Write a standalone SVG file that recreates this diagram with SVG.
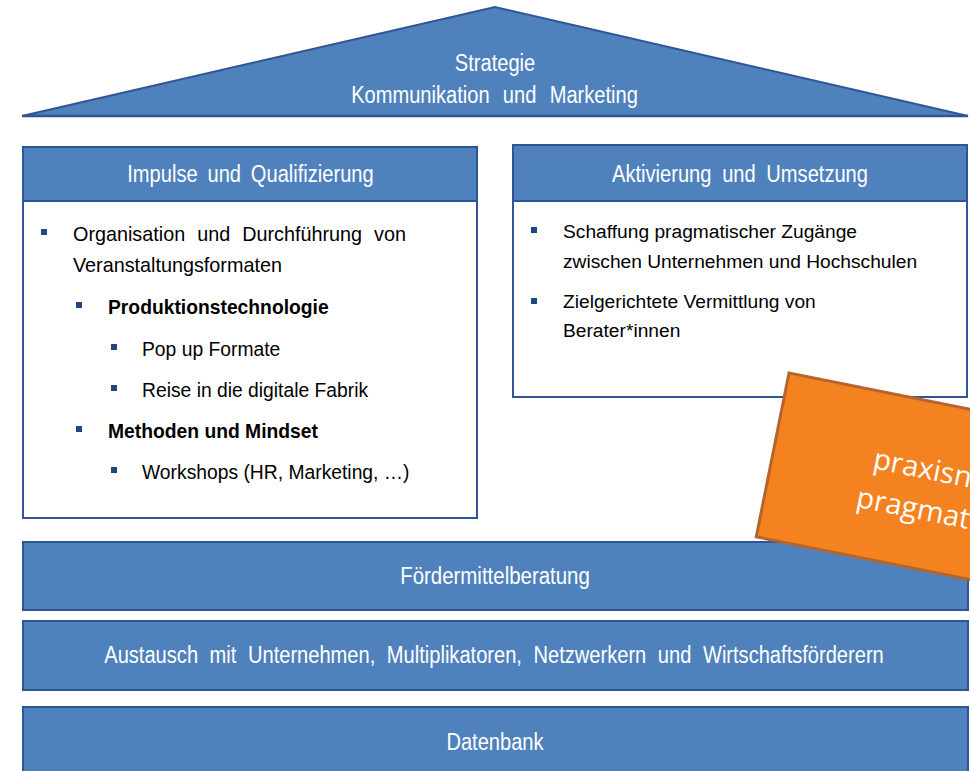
<svg xmlns="http://www.w3.org/2000/svg" width="970" height="771" viewBox="0 0 970 771">
<style>
.blue{fill:#4F81BD;stroke:#2F5597;stroke-width:2}
.box{fill:#FFFFFF;stroke:#2F5597;stroke-width:2}
.wt{font-family:"Liberation Sans",Arial,sans-serif;font-size:23.5px;fill:#FFFFFF;text-anchor:middle}
.bt{font-family:"Liberation Sans",Arial,sans-serif;fill:#000000}
.bul{fill:#1F497D}
.or{font-family:"Open Sans","Noto Sans",sans-serif;font-size:29px;fill:#FFFFFF}
</style>
<rect width="970" height="771" fill="#FFFFFF"/>
<g id="roof">
<polygon class="blue" points="22,116 495,7 968,116"/>
<line x1="22" y1="116" x2="968" y2="116" stroke="#2F5597" stroke-width="2.5"/>
<text class="wt" transform="translate(495,71) scale(0.855,1)">Strategie</text>
<text class="wt" transform="translate(494.5,103) scale(0.855,1)" word-spacing="9">Kommunikation und Marketing</text>
</g>
<g id="impulse">
<rect class="box" x="23" y="147" width="454" height="371"/>
<rect class="blue" x="23" y="147" width="454" height="54"/>
<text class="wt" transform="translate(250.5,182) scale(0.855,1)" word-spacing="5">Impulse und Qualifizierung</text>
<rect class="bul" x="41" y="229" width="6" height="6"/>
<text class="bt" x="73" y="241" font-size="19.8" word-spacing="6.5">Organisation und Durchführung von</text>
<text class="bt" x="73" y="272" font-size="19.8">Veranstaltungsformaten</text>
<rect class="bul" x="76" y="302" width="6" height="6"/>
<text class="bt" x="108" y="314" font-size="19.3" font-weight="bold">Produktionstechnologie</text>
<rect class="bul" x="111" y="344" width="6" height="6"/>
<text class="bt" x="142" y="356" font-size="19.3">Pop up Formate</text>
<rect class="bul" x="111" y="385" width="6" height="6"/>
<text class="bt" x="142" y="397" font-size="19.3">Reise in die digitale Fabrik</text>
<rect class="bul" x="76" y="426" width="6" height="6"/>
<text class="bt" x="108" y="438" font-size="19.3" font-weight="bold">Methoden und Mindset</text>
<rect class="bul" x="111" y="467" width="6" height="6"/>
<text class="bt" x="142" y="479" font-size="19.3">Workshops (HR, Marketing, …)</text>
</g>
<g id="aktivierung">
<rect class="box" x="513" y="145" width="454" height="252"/>
<rect class="blue" x="513" y="145" width="454" height="56"/>
<text class="wt" transform="translate(740,182) scale(0.855,1)" word-spacing="6">Aktivierung und Umsetzung</text>
<rect class="bul" x="531" y="227" width="6" height="6"/>
<text class="bt" x="563" y="238" font-size="19.2">Schaffung pragmatischer Zugänge</text>
<text class="bt" x="563" y="268" font-size="19.2">zwischen Unternehmen und Hochschulen</text>
<rect class="bul" x="531" y="298" width="6" height="6"/>
<text class="bt" x="563" y="308" font-size="19.2">Zielgerichtete Vermittlung von</text>
<text class="bt" x="563" y="337" font-size="19.2">Berater*innen</text>
</g>
<g id="foerdermittel">
<rect class="blue" x="23" y="542" width="945" height="68"/>
<text class="wt" transform="translate(495,584) scale(0.87,1)">Fördermittelberatung</text>
</g>
<g id="austausch">
<rect class="blue" x="23" y="621" width="945" height="69"/>
<text class="wt" transform="translate(494,663) scale(0.855,1)" word-spacing="7">Austausch mit Unternehmen, Multiplikatoren, Netzwerkern und Wirtschaftsförderern</text>
</g>
<g id="datenbank">
<rect class="blue" x="23" y="707" width="945" height="72"/>
<text class="wt" transform="translate(495,750) scale(0.855,1)">Datenbank</text>
</g>
<g id="praxis" transform="translate(789,373) rotate(11.3)">
<rect x="0" y="0" width="340" height="167" fill="#F58220" stroke="#B5652B" stroke-width="3"/>
<text class="or" x="100" y="77">praxisnah</text>
<text class="or" x="91" y="118">pragmatisch</text>
</g>
<g id="connectors"/>
</svg>
